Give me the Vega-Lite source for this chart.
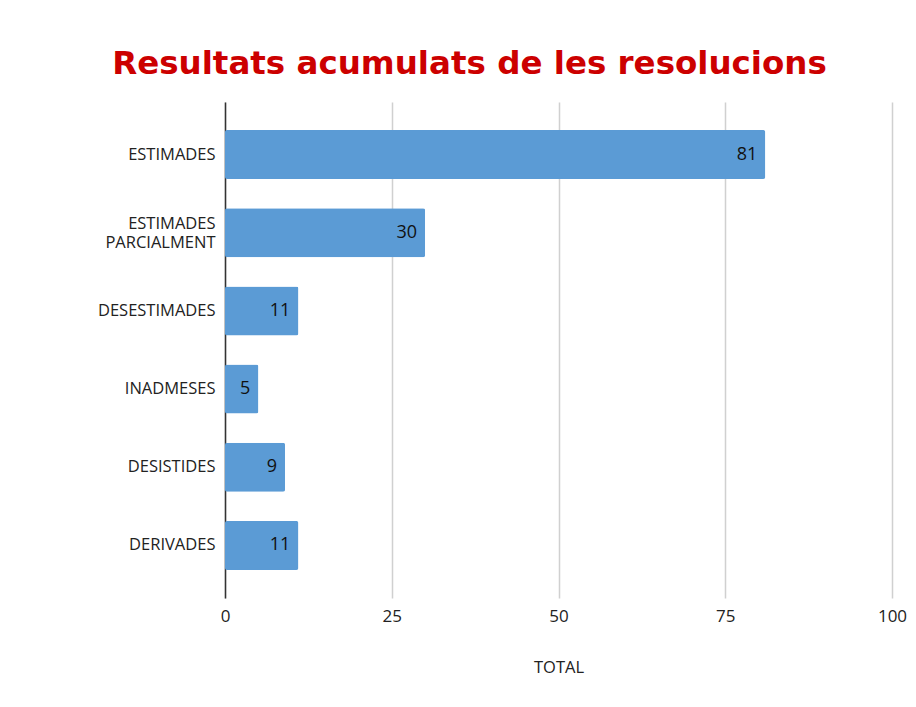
{
  "$schema": "https://vega.github.io/schema/vega-lite/v6.json",
  "width": 667,
  "height": 496,
  "autosize": {"type": "none"},
  "padding": {"left": 225, "top": 102, "right": 24, "bottom": 109},
  "background": "white",
  "config": {"view": {"stroke": null}},
  "title": {
    "text": "Resultats acumulats de les resolucions",
    "font": "DejaVu Sans",
    "fontSize": 32.5,
    "fontWeight": "bold",
    "color": "#cc0000",
    "anchor": "middle",
    "frame": "group",
    "dx": -89,
    "dy": 33,
    "baseline": "alphabetic",
    "offset": 29
  },
  "data": {
    "values": [
      {"categoria": "ESTIMADES", "total": 81},
      {"categoria": "ESTIMADES|PARCIALMENT", "total": 30},
      {"categoria": "DESESTIMADES", "total": 11},
      {"categoria": "INADMESES", "total": 5},
      {"categoria": "DESISTIDES", "total": 9},
      {"categoria": "DERIVADES", "total": 11}
    ]
  },
  "encoding": {
    "y": {
      "field": "categoria",
      "type": "nominal",
      "sort": null,
      "scale": {"paddingInner": 0.373, "paddingOuter": 0.358},
      "axis": {
        "title": null,
        "labelExpr": "split(datum.value, '|')",
        "labelFont": "Open Sans",
        "labelFontSize": 16.5,
        "labelColor": "#222222",
        "labelPadding": 10,
        "labelLineHeight": 19,
        "labelOffset": {"condition": {"test": "indexof(datum.value, '|') >= 0", "value": -9}, "value": 0},
        "ticks": false,
        "domainColor": "#333333",
        "domainWidth": 1.5
      }
    },
    "x": {
      "field": "total",
      "type": "quantitative",
      "scale": {"domain": [0, 100]},
      "axis": {
        "title": "TOTAL",
        "titleFont": "Open Sans",
        "titleFontSize": 16.5,
        "titleFontWeight": "normal",
        "titleColor": "#222222",
        "titlePadding": 35,
        "values": [0, 25, 50, 75, 100],
        "labelFont": "Open Sans",
        "labelFontSize": 17,
        "labelColor": "#222222",
        "labelPadding": 10,
        "labelFlush": false,
        "ticks": false,
        "domain": false,
        "grid": true,
        "gridColor": "#d0d0d0",
        "gridWidth": 1.5
      }
    }
  },
  "layer": [
    {
      "mark": {"type": "bar", "color": "#5b9bd5", "cornerRadius": 2}
    },
    {
      "mark": {"type": "text", "align": "right", "dx": -8, "font": "Open Sans", "fontSize": 18, "color": "#111111"},
      "encoding": {"text": {"field": "total", "type": "quantitative"}}
    }
  ]
}
